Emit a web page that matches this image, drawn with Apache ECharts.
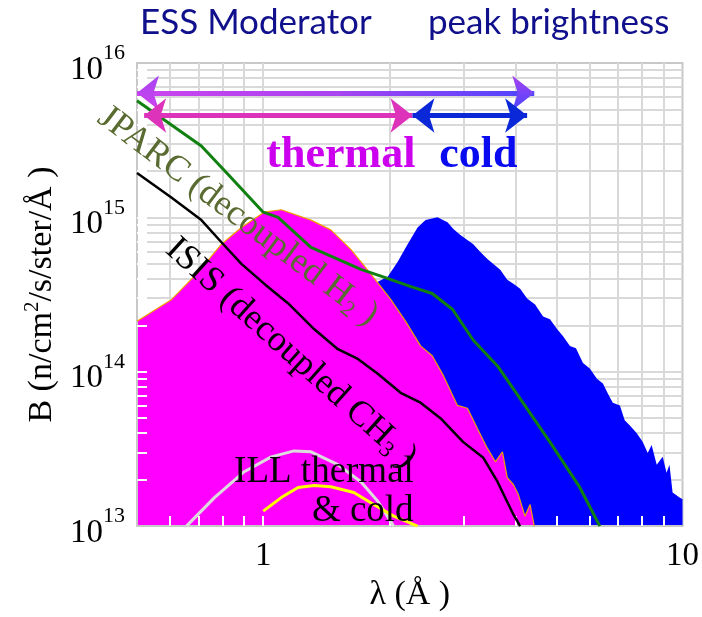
<!DOCTYPE html>
<html>
<head>
<meta charset="utf-8">
<script src="https://cdn.jsdelivr.net/npm/echarts@6/dist/echarts.min.js"></script>
<style>
  html, body { margin: 0; padding: 0; background: #fff; }
  #chart-container { width: 702px; height: 617px; }
</style>
</head>
<body>
<div id="chart-container"></div>
<script>
// [wavelength (Å), brightness (n/cm2/s/ster/Å)]
let jparc = [
  [0.5, 5.7e15], [0.712, 2.9e15], [0.826, 1.89e15], [1.0, 1.08e15], [1.085, 1.0e15],
  [1.30, 6.4e14], [1.71, 4.6e14], [1.94, 4.1e14], [2.25, 3.56e14], [2.53, 3.21e14],
  [2.83, 2.53e14], [3.17, 1.6e14], [3.62, 1.09e14], [4.10, 6.7e13], [4.83, 3.5e13],
  [5.69, 1.78e13], [6.35, 1.0e13]
];
let isis = [
  [0.5, 1.94e15], [0.605, 1.34e15], [0.712, 9.6e14], [0.795, 6.9e14], [0.887, 5.0e14],
  [1.005, 3.72e14], [1.147, 2.77e14], [1.322, 1.89e14], [1.507, 1.40e14], [1.682, 1.21e14],
  [1.876, 9.7e13], [2.127, 7.3e13], [2.373, 6.3e13], [2.647, 5.0e13], [3.0, 3.5e13],
  [3.35, 2.77e13], [3.62, 1.94e13], [3.95, 1.19e13], [4.10, 1.0e13]
];
let thermal = [
  [0.5, 2.12e14], [0.605, 2.94e14], [0.701, 4.44e14], [0.795, 6.7e14], [0.887, 8.6e14],
  [1.005, 1.08e15], [1.104, 1.12e15], [1.30, 9.6e14], [1.45, 8.3e14], [1.618, 6.2e14],
  [1.805, 4.3e14], [2.014, 2.94e14], [2.186, 2.12e14], [2.373, 1.47e14], [2.53, 1.27e14],
  [2.692, 9.4e13], [2.905, 6.05e13], [3.07, 5.8e13], [3.24, 4.3e13], [3.42, 3.21e13],
  [3.58, 2.61e13], [3.72, 3.03e13], [3.82, 2.06e13], [3.95, 1.86e13], [4.06, 1.6e13],
  [4.21, 1.16e13], [4.33, 1.38e13], [4.43, 1.0e13]
];
let cold = [
  [1.71, 3.07e14], [1.876, 3.83e14], [1.981, 4.12e14], [2.093, 5.15e14], [2.21, 6.7e14],
  [2.334, 8.6e14], [2.439, 9.6e14], [2.604, 1.0e15], [2.751, 9.3e14], [2.842, 8.4e14],
  [2.953, 7.7e14], [3.17, 6.7e14], [3.295, 5.97e14], [3.42, 5.4e14], [3.675, 4.57e14],
  [3.82, 3.95e14], [3.95, 3.72e14], [4.10, 3.45e14], [4.26, 2.98e14], [4.45, 2.73e14],
  [4.65, 2.28e14], [4.83, 2.19e14], [5.02, 1.89e14], [5.19, 1.70e14], [5.39, 1.47e14],
  [5.57, 1.42e14], [5.79, 1.14e14], [6.01, 1.05e14], [6.25, 9.0e13], [6.46, 8.4e13],
  [6.64, 7.2e13], [6.82, 6.3e13], [7.09, 6.05e13], [7.28, 4.85e13], [7.48, 4.5e13],
  [7.78, 4.0e13], [8.04, 3.5e13], [8.26, 2.98e13], [8.44, 3.35e13], [8.68, 2.5e13],
  [8.97, 2.81e13], [9.16, 2.22e13], [9.31, 2.5e13], [9.47, 1.65e13], [9.84, 1.53e13],
  [10, 1.49e13]
];
let illThermal = [
  [0.656, 1.0e13], [0.765, 1.53e13], [0.901, 2.25e13], [1.045, 2.81e13], [1.185, 3.07e13],
  [1.30, 3.03e13], [1.507, 2.5e13], [1.71, 1.94e13], [1.876, 1.45e13], [2.047, 1.0e13]
];
let illCold = [
  [1.0, 1.25e13], [1.104, 1.53e13], [1.211, 1.78e13], [1.322, 1.83e13], [1.45, 1.80e13],
  [1.645, 1.65e13], [1.835, 1.38e13], [2.047, 1.16e13], [2.334, 1.0e13]
];

// wavelength ranges shown by the arrows: [from, to, height]
let rangeAll = [0.5, 4.43, 6.4e15];
let rangeThermal = [0.52, 2.27, 4.57e15];
let rangeCold = [2.27, 4.26, 4.57e15];

let xLabels = [1, 10];
let yLabels = [1e13, 1e14, 1e15, 1e16];
let xGridLines = [0.6, 0.7, 0.8, 0.9, 1, 2, 3, 4, 5, 6, 7, 8, 9];
let yGridLines = [
  2e13, 3e13, 4e13, 5e13, 6e13, 7e13, 8e13, 9e13, 1e14,
  2e14, 3e14, 4e14, 5e14, 6e14, 7e14, 8e14, 9e14, 1e15,
  2e15, 3e15, 4e15, 5e15, 6e15, 7e15, 8e15, 9e15
];

const serif = 'Liberation Serif';

function lineSeries(name, data, color, width) {
  return {
    name,
    type: 'line',
    data,
    symbol: 'none',
    silent: true,
    lineStyle: { color, width },
    itemStyle: { color }
  };
}

function arrowLine(range, colorFrom, colorTo, startSymbol, endSymbol) {
  return [
    {
      coord: [range[0], range[2]],
      symbol: startSymbol,
      lineStyle: {
        color: {
          type: 'linear', x: 0, y: 0, x2: 1, y2: 0,
          colorStops: [{ offset: 0, color: colorFrom }, { offset: 1, color: colorTo }]
        }
      }
    },
    { coord: [range[1], range[2]], symbol: endSymbol }
  ];
}

let midAll = 1.5;

let series = [
  {
    name: 'grid',
    type: 'line',
    data: [],
    markLine: {
      z: 1,
      silent: true,
      symbol: 'none',
      label: { show: false },
      lineStyle: { color: '#d9d9d9', width: 2, type: 'solid' },
      data: xGridLines.map(v => ({ xAxis: v })).concat(yGridLines.map(v => ({ yAxis: v })))
    }
  },
  {
    name: 'cold',
    type: 'line',
    data: cold,
    symbol: 'none',
    silent: true,
    lineStyle: { width: 0 },
    itemStyle: { color: '#0000ff' },
    areaStyle: { color: '#0000ff', opacity: 1, origin: 'start' }
  },
  {
    name: 'thermal',
    type: 'line',
    data: thermal,
    symbol: 'none',
    silent: true,
    lineStyle: { color: '#f0a000', width: 1.2 },
    itemStyle: { color: '#ff00ff' },
    areaStyle: { color: '#ff00ff', opacity: 1, origin: 'start' }
  },
  lineSeries('ILL thermal', illThermal, '#dcdcdc', 3),
  lineSeries('ILL cold', illCold, '#ffff00', 3),
  lineSeries('ISIS', isis, '#000000', 2.5),
  lineSeries('JPARC', jparc, '#108010', 3),
  {
    name: 'arrows',
    type: 'line',
    data: [],
    markLine: {
      silent: true,
      symbolSize: [26, 22],
      label: { show: false },
      lineStyle: { width: 5, type: 'solid' },
      data: [
        arrowLine([rangeAll[0], midAll, rangeAll[2]], '#cc44ee', '#a844f0', 'arrow', 'none'),
        arrowLine([midAll, rangeAll[1], rangeAll[2]], '#a844f0', '#4a44ff', 'none', 'arrow'),
        arrowLine(rangeThermal, '#dd33bb', '#dd33bb', 'arrow', 'arrow'),
        arrowLine(rangeCold, '#0a28d8', '#0a28d8', 'arrow', 'arrow')
      ]
    }
  }
];

let option = {
  animation: false,
  grid: {
    left: 137, right: 19, top: 63, bottom: 85,
    show: true, borderColor: '#c8c8c8', borderWidth: 2
  },
  xAxis: {
    type: 'log',
    min: 0.5,
    max: 10,
    z: 3,
    name: 'λ (Å )',
    nameLocation: 'middle',
    nameGap: 48,
    nameTextStyle: { fontFamily: serif, fontSize: 34, color: '#000' },
    axisLine: { lineStyle: { color: '#c8c8c8', width: 2 } },
    axisTick: { inside: true, length: 10, customValues: xGridLines, lineStyle: { color: '#ffffff', width: 2 } },
    axisLabel: {
      customValues: xLabels,
      margin: 14,
      fontFamily: serif,
      fontSize: 33,
      color: '#000',
      formatter: v => (v === 1 || v === 10) ? String(v) : ''
    },
    splitLine: { show: false }
  },
  yAxis: {
    type: 'log',
    min: 1e13,
    max: 1e16,
    z: 3,
    name: 'B (n/cm{s|2}/s/ster/Å )',
    nameLocation: 'middle',
    nameRotate: 90,
    nameGap: 72,
    nameTextStyle: {
      fontFamily: serif, fontSize: 34, color: '#000',
      rich: { s: { fontFamily: serif, fontSize: 21, color: '#000', padding: [0, 0, 20, 0] } }
    },
    axisLine: { lineStyle: { color: '#c8c8c8', width: 2 } },
    axisTick: { inside: true, length: 10, customValues: yGridLines, lineStyle: { color: '#ffffff', width: 2 } },
    axisLabel: {
      customValues: yLabels,
      margin: 12,
      formatter: v => '{b|10}{s|' + Math.round(Math.log10(v)) + '}',
      rich: {
        b: { fontFamily: serif, fontSize: 33, color: '#000', padding: [14, 0, 0, 0] },
        s: { fontFamily: serif, fontSize: 22, color: '#000', padding: [0, 0, 19, 0] }
      }
    },
    splitLine: { show: false }
  },
  series
};

let myChart = echarts.init(document.getElementById('chart-container'));
myChart.setOption(option);

// text annotations anchored in data space
let notes = [
  { text: 'JPARC (decoupled H{sub|2} )', at: [0.87, 1.02e15], angle: -37, color: '#5a6b32', size: 36, weight: 'normal' },
  { text: 'ISIS (decoupled CH{sub|3} )', at: [1.166, 1.32e14], angle: -42, color: '#000000', size: 36, weight: 'normal' },
  { text: 'ILL thermal', at: [1.396, 2.22e13], angle: 0, color: '#000000', size: 37, weight: 'normal' },
  { text: '& cold', at: [2.284, 1.25e13], angle: 0, color: '#000000', size: 37, weight: 'normal', align: 'right' },
  { text: 'thermal', at: [1.532, 2.5e15], angle: 0, color: '#cc00ee', size: 44, weight: 'bold' },
  { text: 'cold', at: [3.26, 2.5e15], angle: 0, color: '#0a0af0', size: 44, weight: 'bold' }
];

let graphic = notes.map(n => {
  let p = myChart.convertToPixel({ gridIndex: 0 }, n.at);
  return {
    type: 'text',
    x: p[0],
    y: p[1],
    rotation: n.angle * Math.PI / 180,
    z: 100,
    silent: true,
    style: {
      text: n.text,
      fill: n.color,
      fontFamily: serif,
      fontSize: n.size,
      fontWeight: n.weight,
      align: n.align || 'center',
      verticalAlign: 'middle',
      rich: {
        sub: { fontFamily: serif, fontSize: 23, fill: n.color, padding: [18, 0, 0, 0] }
      }
    }
  };
});

graphic.push(
  {
    type: 'text', left: 140, top: 5, z: 100, silent: true,
    style: { text: 'ESS Moderator', fill: '#10108c', fontFamily: 'Lato', fontSize: 35 }
  },
  {
    type: 'text', left: 428, top: 5, z: 100, silent: true,
    style: { text: 'peak brightness', fill: '#10108c', fontFamily: 'Lato', fontSize: 35 }
  }
);

myChart.setOption({ graphic });
window.addEventListener('resize', myChart.resize);
</script>
</body>
</html>
